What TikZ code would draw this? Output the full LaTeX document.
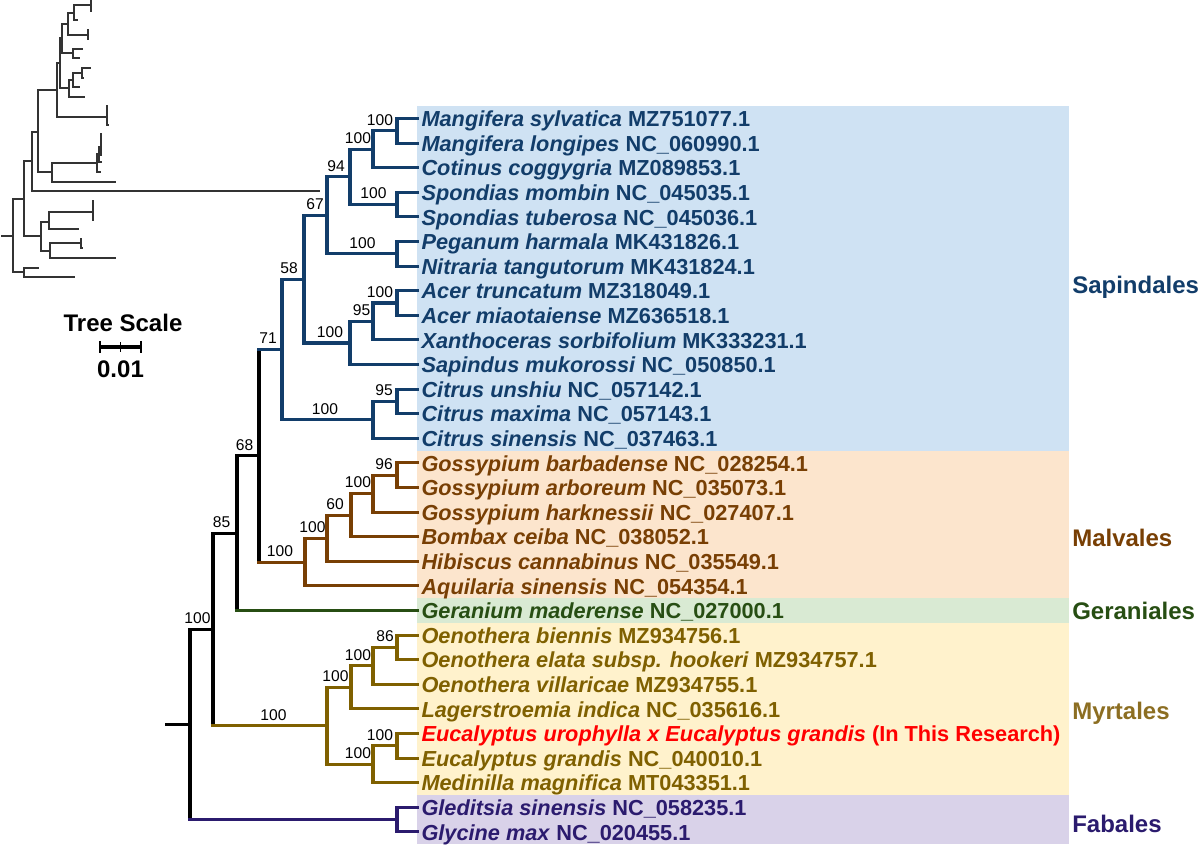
\documentclass[tikz,border=0pt]{standalone}
\usepackage{fontspec}
\usetikzlibrary{calc}
\setmainfont{Liberation Sans}
\definecolor{sapC}{HTML}{123D6A}
\definecolor{malC}{HTML}{783F04}
\definecolor{gerC}{HTML}{274E13}
\definecolor{myrC}{HTML}{7F6000}
\definecolor{myrL}{HTML}{8C6E22}
\definecolor{fabC}{HTML}{2B1B6E}
\definecolor{sapBG}{HTML}{CFE2F3}
\definecolor{malBG}{HTML}{FCE5CD}
\definecolor{gerBG}{HTML}{D9EAD3}
\definecolor{myrBG}{HTML}{FFF2CC}
\definecolor{fabBG}{HTML}{D9D2E9}
\definecolor{inkC}{HTML}{333333}
\newcommand\taxon[2]{\textit{#1} #2}
\begin{document}
\begin{tikzpicture}[x=0.75pt,y=-0.75pt,
  br/.style={line width=2.3pt, line cap=rect},
  thinl/.style={line width=0.95pt, draw=inkC, line cap=rect},
  bs/.style={font=\fontsize{11.7}{12}\selectfont, anchor=base, inner sep=0pt, yshift=4.3pt},
  leaf/.style={anchor=base west, inner sep=0pt, font=\fontsize{16.3}{18}\selectfont\bfseries, xshift=3.2pt, yshift=-6.1pt},
  clade/.style={anchor=base west, inner sep=0pt, font=\fontsize{18}{20}\selectfont\bfseries}]
\useasboundingbox (0,0) rectangle (1200,848);

% ---- background bands
\fill[sapBG] (417,106.2) rectangle (1069,450.6);
\fill[malBG] (417,450.6) rectangle (1069,598.2);
\fill[gerBG] (417,598.2) rectangle (1069,622.8);
\fill[myrBG] (417,622.8) rectangle (1069,795.0);
\fill[fabBG] (417,795.0) rectangle (1069,844.2);

% ---- leaf tips
\coordinate (L0) at (417,118.5);
\coordinate (L1) at (417,143.1);
\coordinate (L2) at (417,167.7);
\coordinate (L3) at (417,192.3);
\coordinate (L4) at (417,216.9);
\coordinate (L5) at (417,241.5);
\coordinate (L6) at (417,266.1);
\coordinate (L7) at (417,290.7);
\coordinate (L8) at (417,315.3);
\coordinate (L9) at (417,339.9);
\coordinate (L10) at (417,364.5);
\coordinate (L11) at (417,389.1);
\coordinate (L12) at (417,413.7);
\coordinate (L13) at (417,438.3);
\coordinate (L14) at (417,462.9);
\coordinate (L15) at (417,487.5);
\coordinate (L16) at (417,512.1);
\coordinate (L17) at (417,536.7);
\coordinate (L18) at (417,561.3);
\coordinate (L19) at (417,585.9);
\coordinate (L20) at (417,610.5);
\coordinate (L21) at (417,635.1);
\coordinate (L22) at (417,659.7);
\coordinate (L23) at (417,684.3);
\coordinate (L24) at (417,708.9);
\coordinate (L25) at (417,733.5);
\coordinate (L26) at (417,758.1);
\coordinate (L27) at (417,782.7);
\coordinate (L28) at (417,807.3);
\coordinate (L29) at (417,831.9);

% ---- internal nodes
\coordinate (a1) at (397,130.8);
\coordinate (a2) at (373,149.25);
\coordinate (a3) at (397,204.6);
\coordinate (a4) at (350,176.93);
\coordinate (a5) at (397,253.8);
\coordinate (a6) at (327,215.36);
\coordinate (a7) at (397,303.0);
\coordinate (a8) at (373,321.45);
\coordinate (a9) at (350,342.98);
\coordinate (a10) at (304,279.17);
\coordinate (a11) at (397,401.4);
\coordinate (a12) at (373,419.85);
\coordinate (D) at (282,349.51);
\coordinate (b1) at (397,475.2);
\coordinate (b2) at (373,493.65);
\coordinate (b3) at (351,515.18);
\coordinate (b4) at (327,538.24);
\coordinate (b5) at (305,562.07);
\coordinate (C) at (259,455.79);
\coordinate (B) at (237,533.15);
\coordinate (c1) at (397,647.4);
\coordinate (c2) at (373,665.85);
\coordinate (c3) at (351,687.38);
\coordinate (c4) at (397,745.8);
\coordinate (c5) at (373,764.25);
\coordinate (c6) at (327,725.82);
\coordinate (A) at (213,629.49);
\coordinate (d1) at (397,819.6);
\coordinate (R) at (190,724.55);
\coordinate (stub) at (167,724.55);

% ---- vertical parts of the nodes
\foreach \n/\f/\l in {a1/L0/L1, a2/a1/L2, a3/L3/L4, a4/a2/a3, a5/L5/L6, a6/a4/a5,
  a7/L7/L8, a8/a7/L9, a9/a8/L10, a10/a6/a9, a11/L11/L12, a12/a11/L13, D/a10/a12}
  \draw[br,sapC] (\n |- \f) -- (\n |- \l);
\foreach \n/\f/\l in {b1/L14/L15, b2/b1/L16, b3/b2/L17, b4/b3/L18, b5/b4/L19}
  \draw[br,malC] (\n |- \f) -- (\n |- \l);
\foreach \n/\f/\l in {c1/L21/L22, c2/c1/L23, c3/c2/L24, c4/L25/L26, c5/c4/L27, c6/c3/c5}
  \draw[br,myrC] (\n |- \f) -- (\n |- \l);
\draw[br,fabC] (d1 |- L28) -- (d1 |- L29);
\foreach \n/\f/\l in {C/D/b5, B/C/L20, A/B/c6, R/A/d1}
  \draw[br,black] (\n |- \f) -- (\n |- \l);

% ---- horizontal branches
\foreach \p/\c in {a1/L0, a1/L1, a2/a1, a2/L2, a3/L3, a3/L4, a4/a2, a4/a3, a5/L5, a5/L6,
  a6/a4, a6/a5, a7/L7, a7/L8, a8/a7, a8/L9, a9/a8, a9/L10, a10/a6, a10/a9,
  a11/L11, a11/L12, a12/a11, a12/L13, D/a10, D/a12, C/D}
  \draw[br,sapC] (\p |- \c) -- (\c);
\foreach \p/\c in {b1/L14, b1/L15, b2/b1, b2/L16, b3/b2, b3/L17, b4/b3, b4/L18, b5/b4, b5/L19, C/b5}
  \draw[br,malC] (\p |- \c) -- (\c);
\draw[br,gerC] (B |- L20) -- (L20);
\foreach \p/\c in {c1/L21, c1/L22, c2/c1, c2/L23, c3/c2, c3/L24, c4/L25, c4/L26,
  c5/c4, c5/L27, c6/c3, c6/c5, A/c6}
  \draw[br,myrC] (\p |- \c) -- (\c);
\foreach \p/\c in {d1/L28, d1/L29, R/d1}
  \draw[br,fabC] (\p |- \c) -- (\c);
\foreach \p/\c in {B/C, A/B, R/A}
  \draw[br,black] (\p |- \c) -- (\c);
\draw[br,black] (stub) -- (R);

% ---- bootstrap values
\node[bs] (s-a1) at (380,0 |- a1) {100};
\node[bs] (s-a2) at (358,0 |- a2) {100};
\node[bs] (s-a3) at (373.5,0 |- a3) {100};
\node[bs] (s-a4) at (336,0 |- a4) {94};
\node[bs] (s-a5) at (362.5,0 |- a5) {100};
\node[bs] (s-a6) at (315,0 |- a6) {67};
\node[bs] (s-a7) at (380,0 |- a7) {100};
\node[bs] (s-a8) at (361.5,0 |- a8) {95};
\node[bs] (s-a9) at (330,0 |- a9) {100};
\node[bs] (s-a10) at (289,0 |- a10) {58};
\node[bs] (s-a11) at (384,0 |- a11) {95};
\node[bs] (s-a12) at (325,0 |- a12) {100};
\node[bs] (s-D) at (268,0 |- D) {71};
\node[bs] (s-b1) at (384,0 |- b1) {96};
\node[bs] (s-b2) at (358,0 |- b2) {100};
\node[bs] (s-b3) at (335,0 |- b3) {60};
\node[bs] (s-b4) at (312.5,0 |- b4) {100};
\node[bs] (s-b5) at (280,0 |- b5) {100};
\node[bs] (s-C) at (244.5,0 |- C) {68};
\node[bs] (s-B) at (221.5,0 |- B) {85};
\node[bs] (s-c1) at (385,0 |- c1) {86};
\node[bs] (s-c2) at (358,0 |- c2) {100};
\node[bs] (s-c3) at (335.5,0 |- c3) {100};
\node[bs] (s-c4) at (380,0 |- c4) {100};
\node[bs] (s-c5) at (358,0 |- c5) {100};
\node[bs] (s-c6) at (273.5,0 |- c6) {100};
\node[bs] (s-A) at (197.5,0 |- A) {100};

% ---- leaf labels
\node[leaf,text=sapC] (t0) at (L0) {\taxon{Mangifera sylvatica}{MZ751077.1}};
\node[leaf,text=sapC] (t1) at (L1) {\taxon{Mangifera longipes}{NC\_060990.1}};
\node[leaf,text=sapC] (t2) at (L2) {\taxon{Cotinus coggygria}{MZ089853.1}};
\node[leaf,text=sapC] (t3) at (L3) {\taxon{Spondias mombin}{NC\_045035.1}};
\node[leaf,text=sapC] (t4) at (L4) {\taxon{Spondias tuberosa}{NC\_045036.1}};
\node[leaf,text=sapC] (t5) at (L5) {\taxon{Peganum harmala}{MK431826.1}};
\node[leaf,text=sapC] (t6) at (L6) {\taxon{Nitraria tangutorum}{MK431824.1}};
\node[leaf,text=sapC] (t7) at (L7) {\taxon{Acer truncatum}{MZ318049.1}};
\node[leaf,text=sapC] (t8) at (L8) {\taxon{Acer miaotaiense}{MZ636518.1}};
\node[leaf,text=sapC] (t9) at (L9) {\taxon{Xanthoceras sorbifolium}{MK333231.1}};
\node[leaf,text=sapC] (t10) at (L10) {\taxon{Sapindus mukorossi}{NC\_050850.1}};
\node[leaf,text=sapC] (t11) at (L11) {\taxon{Citrus unshiu}{NC\_057142.1}};
\node[leaf,text=sapC] (t12) at (L12) {\taxon{Citrus maxima}{NC\_057143.1}};
\node[leaf,text=sapC] (t13) at (L13) {\taxon{Citrus sinensis}{NC\_037463.1}};
\node[leaf,text=malC] (t14) at (L14) {\taxon{Gossypium barbadense}{NC\_028254.1}};
\node[leaf,text=malC] (t15) at (L15) {\taxon{Gossypium arboreum}{NC\_035073.1}};
\node[leaf,text=malC] (t16) at (L16) {\taxon{Gossypium harknessii}{NC\_027407.1}};
\node[leaf,text=malC] (t17) at (L17) {\taxon{Bombax ceiba}{NC\_038052.1}};
\node[leaf,text=malC] (t18) at (L18) {\taxon{Hibiscus cannabinus}{NC\_035549.1}};
\node[leaf,text=malC] (t19) at (L19) {\taxon{Aquilaria sinensis}{NC\_054354.1}};
\node[leaf,text=gerC] (t20) at (L20) {\taxon{Geranium maderense}{NC\_027000.1}};
\node[leaf,text=myrC] (t21) at (L21) {\taxon{Oenothera biennis}{MZ934756.1}};
\node[leaf,text=myrC] (t22) at (L22) {\taxon{Oenothera elata subsp. hookeri}{MZ934757.1}};
\node[leaf,text=myrC] (t23) at (L23) {\taxon{Oenothera villaricae}{MZ934755.1}};
\node[leaf,text=myrC] (t24) at (L24) {\taxon{Lagerstroemia indica}{NC\_035616.1}};
\node[leaf,text=red] (t25) at (L25) {\taxon{Eucalyptus urophylla x Eucalyptus grandis}{(In This Research)}};
\node[leaf,text=myrC] (t26) at (L26) {\taxon{Eucalyptus grandis}{NC\_040010.1}};
\node[leaf,text=myrC] (t27) at (L27) {\taxon{Medinilla magnifica}{MT043351.1}};
\node[leaf,text=fabC] (t28) at (L28) {\taxon{Gleditsia sinensis}{NC\_058235.1}};
\node[leaf,text=fabC] (t29) at (L29) {\taxon{Glycine max}{NC\_020455.1}};

% ---- clade labels
\node[clade,text=sapC] (k1) at (1072,293.5) {Sapindales};
\node[clade,text=malC] (k2) at (1072,546.5) {Malvales};
\node[clade,text=gerC] (k3) at (1072,619.5) {Geraniales};
\node[clade,text=myrL] (k4) at (1072,719.5) {Myrtales};
\node[clade,text=fabC] (k5) at (1072,832.5) {Fabales};

% ---- overview tree (top left)
\draw[thinl] (2,236) -- (13,236);
\draw[thinl] (13,199) -- (13,272);
\draw[thinl] (13,199) -- (24,199);
\draw[thinl] (13,272) -- (24,272);
\draw[thinl] (24,268) -- (24,277);
\draw[thinl] (24,268) -- (38,268);
\draw[thinl] (24,277) -- (74,277);
\draw[thinl] (24,161) -- (24,236);
\draw[thinl] (24,236) -- (41,236);
\draw[thinl] (41,222) -- (41,251);
\draw[thinl] (41,222) -- (49,222);
\draw[thinl] (49,212) -- (49,229);
\draw[thinl] (49,212) -- (93,212);
\draw[thinl] (93,201) -- (93,220);
\draw[thinl] (49,229) -- (78,229);
\draw[thinl] (41,251) -- (50,251);
\draw[thinl] (50,243) -- (50,258);
\draw[thinl] (50,243) -- (81,243);
\draw[thinl] (81,239) -- (81,248) -- (82,248);
\draw[thinl] (50,258) -- (115,258);
\draw[thinl] (24,161) -- (32,161);
\draw[thinl] (32,132) -- (32,191);
\draw[thinl] (32,191) -- (319,191);
\draw[thinl] (32,132) -- (38,132);
\draw[thinl] (38,90) -- (38,172);
\draw[thinl] (38,172) -- (52,172);
\draw[thinl] (52,163) -- (52,182);
\draw[thinl] (52,182) -- (115,182);
\draw[thinl] (52,163) -- (97,163);
\draw[thinl] (97,154) -- (97,172) -- (100,172);
\draw[thinl] (97,154) -- (99,154);
\draw[thinl] (99,147) -- (99,162) -- (101,162);
\draw[thinl] (99,147) -- (101,147);
\draw[thinl] (101,134) -- (101,155);
\draw[thinl] (38,90) -- (57,90);
\draw[thinl] (57,63) -- (57,117);
\draw[thinl] (57,117) -- (107,117);
\draw[thinl] (107,106) -- (107,125) -- (108,125);
\draw[thinl] (57,63) -- (60,63);
\draw[thinl] (60,38) -- (60,88);
\draw[thinl] (60,38) -- (62,38);
\draw[thinl] (62,24) -- (62,53);
\draw[thinl] (62,24) -- (68,24);
\draw[thinl] (68,13) -- (68,35);
\draw[thinl] (68,13) -- (74,13);
\draw[thinl] (74,5) -- (74,20);
\draw[thinl] (74,5) -- (91,5);
\draw[thinl] (91,1) -- (91,11);
\draw[thinl] (74,20) -- (77,20);
\draw[thinl] (68,35) -- (88,35);
\draw[thinl] (88,30) -- (88,39);
\draw[thinl] (62,53) -- (73,53);
\draw[thinl] (73,49) -- (73,58);
\draw[thinl] (73,49) -- (82,49);
\draw[thinl] (73,58) -- (79,58);
\draw[thinl] (60,88) -- (69,88);
\draw[thinl] (69,80) -- (69,97);
\draw[thinl] (69,80) -- (73,80);
\draw[thinl] (73,73) -- (73,87);
\draw[thinl] (73,73) -- (82,73);
\draw[thinl] (82,68) -- (82,78);
\draw[thinl] (82,68) -- (90,68);
\draw[thinl] (82,78) -- (83,78);
\draw[thinl] (73,87) -- (79,87);
\draw[thinl] (69,97) -- (84,97);

% ---- tree scale
\node[anchor=base, inner sep=0pt, font=\fontsize{18}{20}\selectfont\bfseries] (ts) at (123,332) {Tree Scale};
\coordinate (sb1) at (100,347);
\coordinate (sb2) at (141,347);
\coordinate (sbm) at ($(sb1)!.5!(sb2)$);
\draw[line width=3pt] (sb1) -- (sb2);
\draw[line width=1.1pt] ([yshift=4.5pt]sb1) -- ([yshift=-4.5pt]sb1);
\draw[line width=1.1pt] ([yshift=4.5pt]sb2) -- ([yshift=-4.5pt]sb2);
\draw[line width=0.9pt] ([yshift=3.5pt]sbm) -- ([yshift=-3.5pt]sbm);
\node[anchor=base, inner sep=0pt, font=\fontsize{18}{20}\selectfont\bfseries] (tv) at (120.5,378) {0.01};
\end{tikzpicture}
\end{document}
